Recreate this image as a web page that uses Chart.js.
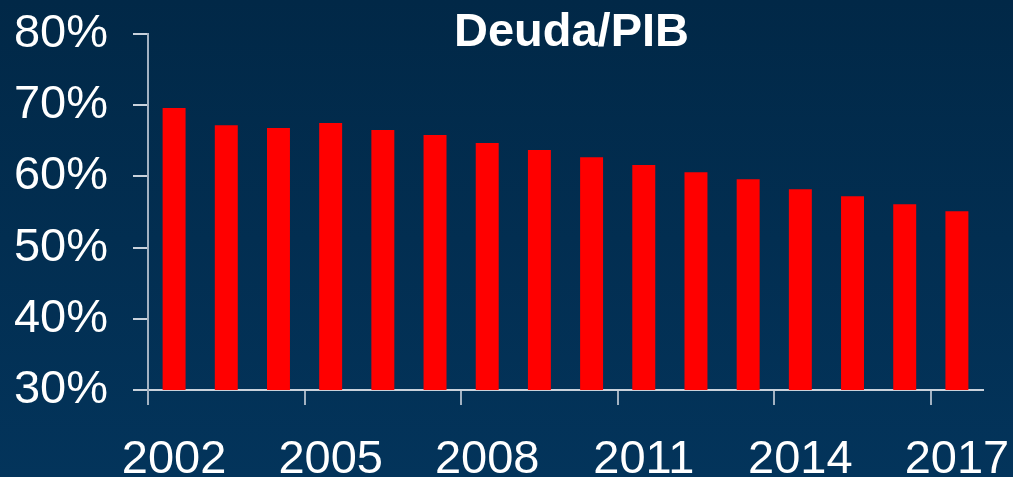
<!DOCTYPE html>
<html>
<head>
<meta charset="utf-8">
<script src="https://cdn.jsdelivr.net/npm/chart.js@4.4.1/dist/chart.umd.min.js"></script>
<style>
  html, body { margin:0; padding:0; }
  body { width:1013px; height:477px; background:linear-gradient(#012847, #03345b); overflow:hidden; }
  #wrap { position:relative; width:1013px; height:477px; }
</style>
</head>
<body>
<div id="wrap"><canvas id="chart" width="1013" height="477"></canvas></div>
<script>
// data
const years = ['2002','2003','2004','2005','2006','2007','2008','2009','2010','2011','2012','2013','2014','2015','2016','2017'];
const deudaPib = [69.6, 67.2, 66.8, 67.5, 66.5, 65.8, 64.7, 63.7, 62.7, 61.6, 60.6, 59.6, 58.2, 57.2, 56.1, 55.1];
const yTicks = [30, 40, 50, 60, 70, 80];
const titleText = 'Deuda/PIB';

const font = 'Liberation Sans, Arial, sans-serif';
const lineCol = '#c9d2dc';
const tickCol = '#a3b2c2';

// title sits over the plot area, not the whole canvas
const titlePlugin = {
  id: 'plotTitle',
  afterDraw(chart){
    const c = chart.ctx, a = chart.chartArea;
    c.save();
    c.font = 'bold 47px ' + font;
    c.fillStyle = '#ffffff';
    c.textAlign = 'center';
    c.textBaseline = 'alphabetic';
    c.fillText(titleText, (a.left + a.right)/2 + 6, 46);
    c.restore();
  }
};

new Chart(document.getElementById('chart'), {
  type: 'bar',
  data: {
    labels: years,
    datasets: [{ label: titleText, data: deudaPib, backgroundColor: '#ff0000', barPercentage: 0.44, categoryPercentage: 1 }]
  },
  options: {
    responsive: false,
    animation: false,
    layout: { padding: { top: 34, right: 30, left: 0, bottom: 0 } },
    plugins: { legend: { display: false }, title: { display: false }, tooltip: { enabled: false } },
    scales: {
      x: {
        grid: {
          offset: true, drawOnChartArea: false, tickLength: 15, lineWidth: 2,
          color: ctx => (ctx.index % 3 === 0 && ctx.index < years.length) ? tickCol : 'rgba(0,0,0,0)'
        },
        border: { color: lineCol, width: 2 },
        ticks: {
          autoSkip: false, maxRotation: 0, color: '#ffffff', padding: 27,
          font: { family: font, size: 47 },
          callback: (v, i) => i % 3 === 0 ? years[i] : ''
        },
        afterFit: s => { s.height = 87; s.paddingLeft = 0; s.paddingRight = 0; }
      },
      y: {
        min: 30, max: 80,
        afterBuildTicks: s => { s.ticks = yTicks.map(v => ({ value: v })); },
        grid: { drawOnChartArea: false, tickLength: 15, lineWidth: 2, color: lineCol },
        border: { color: tickCol, width: 2 },
        ticks: {
          color: '#ffffff', padding: 25,
          font: { family: font, size: 47 },
          callback: v => v + '%'
        },
        afterFit: s => { s.width = 148; s.paddingTop = 0; s.paddingBottom = 0; }
      }
    }
  },
  plugins: [titlePlugin]
});
</script>
</body>
</html>
